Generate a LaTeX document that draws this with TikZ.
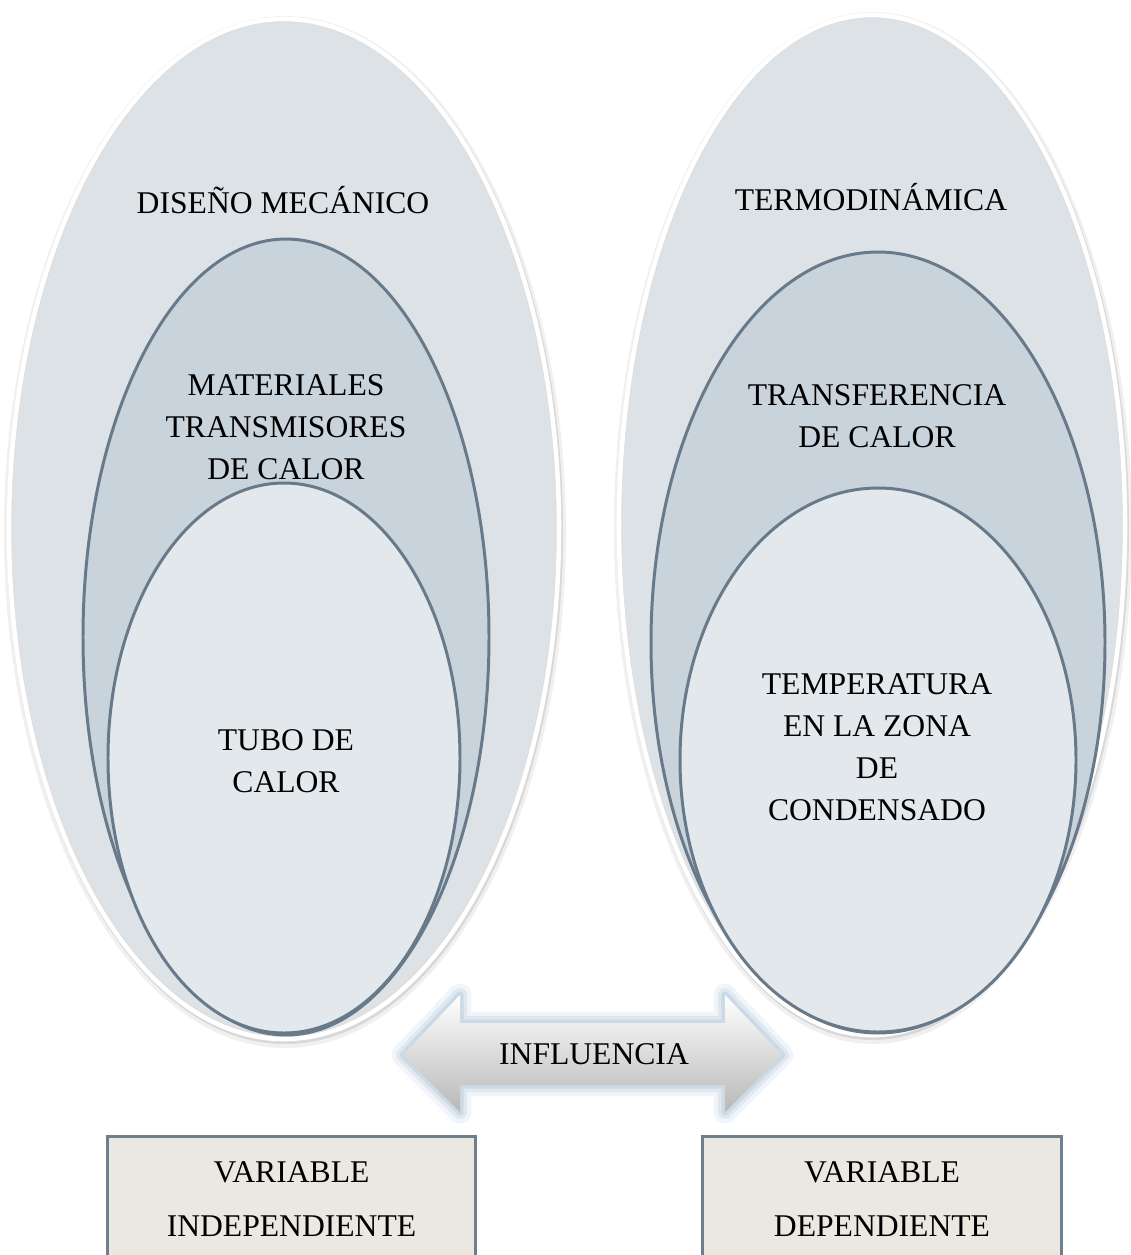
\documentclass[tikz,border=0pt]{standalone}
\usepackage{fontspec}
\setmainfont{Liberation Serif}
\usetikzlibrary{positioning}
\definecolor{OuterFill}{HTML}{DDE2E7}
\definecolor{MidFill}{HTML}{C9D3DC}
\definecolor{InnerFill}{HTML}{E3E8EC}
\definecolor{EdgeGrey}{HTML}{687A8A}
\definecolor{BoxFill}{HTML}{EBE8E2}
\definecolor{BoxEdge}{HTML}{6E7F8E}
\definecolor{Glow}{HTML}{B9CADC}
\begin{document}
\begin{tikzpicture}[x=0.02cm,y=-0.02cm,
    lbl/.style={align=center,font=\fontsize{18}{24}\selectfont,inner sep=0pt},
    ring/.style={draw=EdgeGrey,line width=1.7pt},
    shell/.style={draw=white,line width=2.6pt,fill=OuterFill},
    varbox/.style={draw=BoxEdge,line width=1.7pt,fill=BoxFill,align=center,
      font=\fontsize{18}{31}\selectfont,minimum width=7.38cm,minimum height=2.5cm,anchor=north}]
  \useasboundingbox (0,0) rectangle (1130,1255);
  \foreach \cx/\cy/\rx/\ry in {284/529/275/510, 872/525/253/510}{
    \fill[black,opacity=0.06] (\cx+1,\cy+3) ellipse [x radius=\rx+6,y radius=\ry+6];
    \fill[black,opacity=0.10] (\cx+1,\cy+2) ellipse [x radius=\rx+3,y radius=\ry+3];
    \draw[shell] (\cx,\cy) ellipse [x radius=\rx,y radius=\ry];
    \draw[gray!25,line width=0.5pt] (\cx,\cy) ellipse [x radius=\rx-3,y radius=\ry-3];
  }
  \draw[ring,fill=MidFill] (286,637) ellipse [x radius=203,y radius=398];
  \draw[ring,fill=InnerFill] (284,758) ellipse [x radius=176,y radius=275];
  \draw[ring,fill=MidFill] (878,642.5) ellipse [x radius=227,y radius=390.5];
  \draw[ring,fill=InnerFill] (878,760) ellipse [x radius=198,y radius=272];
  \node[lbl] (dm) at (283,200) {DISEÑO MECÁNICO};
  \node[lbl] (mt) at (286,427) {MATERIALES\\TRANSMISORES\\DE CALOR};
  \node[lbl] (tc) at (286,761) {TUBO DE\\CALOR};
  \node[lbl] (td) at (871,197) {TERMODINÁMICA};
  \node[lbl] (tf) at (877,416) {TRANSFERENCIA\\DE CALOR};
  \node[lbl] (tz) at (877,747) {TEMPERATURA\\EN LA ZONA\\DE\\CONDENSADO};
  \def\infarrow{(403,1055) -- (460,995) -- (460,1023) -- (725,1023) -- (725,995) -- (782,1055)
    -- (725,1112) -- (725,1085) -- (460,1085) -- (460,1112) -- cycle}
  \foreach \w/\o in {13/0.2,8/0.3,4/0.5}
    \draw[Glow,line width=\w pt,line join=round,opacity=\o] \infarrow;
  \shade[top color=white,middle color=black!12,bottom color=black!28] \infarrow;
  \node[lbl] (infl) at (594,1054) {INFLUENCIA};
  \node[varbox] (vi) at (291.5,1135) {VARIABLE\\INDEPENDIENTE};
  \node[varbox,minimum width=7.2cm] (vd) at (882,1135) {VARIABLE\\DEPENDIENTE};
\end{tikzpicture}
\end{document}
